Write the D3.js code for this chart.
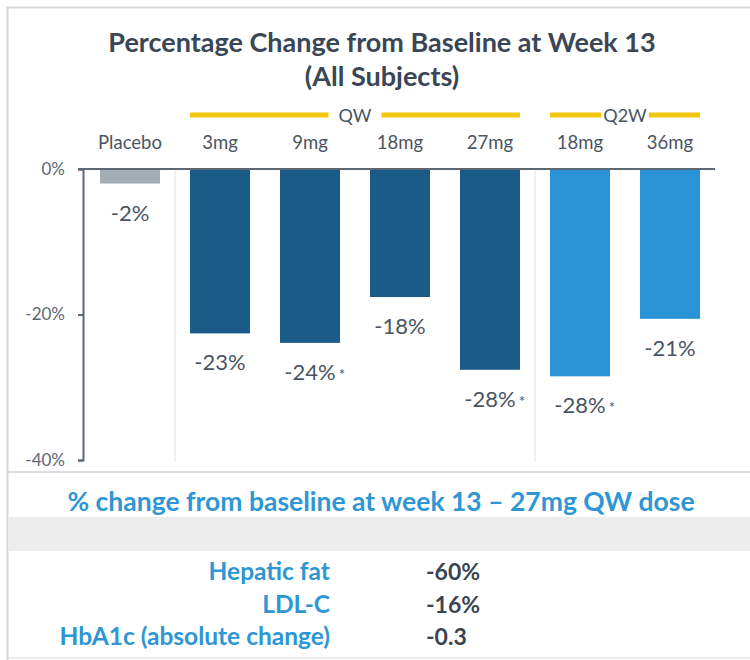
<!DOCTYPE html>
<html>
<head>
<meta charset="utf-8">
<script src="https://cdn.jsdelivr.net/npm/d3@7"></script>
<style>
  body { margin: 0; background: #fff; }
  svg { display: block; font-family: Lato, "Open Sans", sans-serif; }
</style>
</head>
<body>
<svg id="chart" width="750" height="660"></svg>
<script>
"use strict";

// bars
const categories = ["Placebo", "3mg", "9mg", "18mg", "27mg", "18mg", "36mg"];
const groups = ["Placebo", "QW", "QW", "QW", "QW", "Q2W", "Q2W"];
const values = [-2, -22.6, -23.9, -17.6, -27.6, -28.5, -20.6];
const valueLabels = ["-2%", "-23%", "-24%", "-18%", "-28%", "-28%", "-21%"];
const starred = [false, false, true, false, true, true, false];
const yTicks = [0, -20, -40];

// table under the chart
const metrics = ["Hepatic fat", "LDL-C", "HbA1c (absolute change)"];
const metricValues = ["-60%", "-16%", "-0.3"];

const colors = { Placebo: "#a6aeb5", QW: "#1a5b87", Q2W: "#2a93d6" };

const svg = d3.select("#chart");

// frame
svg.append("path")
    .attr("d", "M7.5,660 V7.5 H750")
    .attr("fill", "none").attr("stroke", "#d4d6d9").attr("stroke-width", 2);
svg.append("line")
    .attr("x1", 7).attr("x2", 750).attr("y1", 472).attr("y2", 472)
    .attr("stroke", "#cfd2d5").attr("stroke-width", 1.5);
svg.append("line")
    .attr("x1", 7).attr("x2", 750).attr("y1", 658).attr("y2", 658)
    .attr("stroke", "#e2e4e6").attr("stroke-width", 1.5);

// title
svg.append("text").attr("x", 382).attr("y", 52)
    .attr("text-anchor", "middle").attr("font-size", 27).attr("font-weight", 700)
    .attr("fill", "#3a4656")
    .text("Percentage Change from Baseline at Week 13");
svg.append("text").attr("x", 382).attr("y", 86)
    .attr("text-anchor", "middle").attr("font-size", 27).attr("font-weight", 700)
    .attr("fill", "#3a4656")
    .text("(All Subjects)");

const ids = categories.map((c, i) => i);
const x = d3.scaleBand().domain(ids).range([85, 715])
    .paddingInner(1 / 3).paddingOuter(1 / 6);
const y = d3.scaleLinear().domain([-40, 0]).range([460, 169]);

// separators between groups
[1, 5].forEach(i => {
    const sx = x(i) - x.step() * x.paddingInner() / 2;
    svg.append("line")
        .attr("x1", sx).attr("x2", sx).attr("y1", y(0)).attr("y2", 462)
        .attr("stroke", "#e6e7e9").attr("stroke-width", 1.2);
});

// y axis
const yAxis = svg.append("g")
    .attr("transform", "translate(83,0)")
    .call(d3.axisLeft(y).tickValues(yTicks).tickSize(5).tickSizeOuter(5)
        .tickPadding(13).tickFormat(d => d + "%"));
yAxis.select(".domain").attr("stroke", "#5d6772").attr("stroke-width", 2);
yAxis.selectAll(".tick line").attr("stroke", "#5d6772").attr("stroke-width", 2);
yAxis.selectAll(".tick text")
    .attr("font-size", 17).attr("fill", "#5d6772")
    .attr("font-family", "Lato, sans-serif");

// bars
svg.append("g").selectAll("rect")
    .data(ids).join("rect")
    .attr("x", i => x(i))
    .attr("y", y(0))
    .attr("width", x.bandwidth())
    .attr("height", i => y(values[i]) - y(0))
    .attr("fill", i => colors[groups[i]]);

// zero line
svg.append("line")
    .attr("x1", 78).attr("x2", 715).attr("y1", y(0)).attr("y2", y(0))
    .attr("stroke", "#5d6772").attr("stroke-width", 2);

// value labels
const lab = svg.append("g").selectAll("g")
    .data(ids).join("g");
lab.append("text")
    .attr("class", "vl")
    .attr("x", i => x(i) + x.bandwidth() / 2)
    .attr("y", i => y(values[i]) + 37)
    .attr("text-anchor", "middle")
    .attr("font-size", 22).attr("fill", "#4a5462")
    .text(i => valueLabels[i]);
lab.filter(i => starred[i]).append("text")
    .attr("x", function (i) {
        const w = this.parentNode.querySelector(".vl").getComputedTextLength();
        return x(i) + x.bandwidth() / 2 + w / 2 + 3;
    })
    .attr("y", i => y(values[i]) + 37)
    .attr("font-size", 15).attr("fill", "#4a5462")
    .text("*");

// category labels
svg.append("g").selectAll("text")
    .data(ids).join("text")
    .attr("x", i => x(i) + x.bandwidth() / 2)
    .attr("y", 149)
    .attr("text-anchor", "middle")
    .attr("font-size", 18.5).attr("fill", "#4a5462")
    .text(i => categories[i]);

// group brackets (QW / Q2W)
const bracketGroups = [
    { name: "QW", first: 1, last: 4, gap: 10 },
    { name: "Q2W", first: 5, last: 6, gap: 2 }
];
bracketGroups.forEach(g => {
    const x0 = x(g.first), x1 = x(g.last) + x.bandwidth();
    const cx = (x0 + x1) / 2;
    const t = svg.append("text").attr("x", cx).attr("y", 122)
        .attr("text-anchor", "middle").attr("font-size", 18).attr("fill", "#4a5462")
        .text(g.name);
    const hw = t.node().getComputedTextLength() / 2;
    [[x0, cx - hw - g.gap], [cx + hw + g.gap, x1]].forEach(([a, b]) => {
        svg.append("line").attr("x1", a).attr("x2", b).attr("y1", 115).attr("y2", 115)
            .attr("stroke", "#f2c511").attr("stroke-width", 5);
    });
});

// lower panel
svg.append("text").attr("x", 381).attr("y", 511)
    .attr("text-anchor", "middle").attr("font-size", 26.5).attr("font-weight", 700)
    .attr("fill", "#2e96d4")
    .text("% change from baseline at week 13 \u2013 27mg QW dose");
svg.append("rect").attr("x", 8).attr("y", 517).attr("width", 742).attr("height", 34)
    .attr("fill", "#ececec");

const rowY = d3.scalePoint().domain(metrics).range([580, 645]);
svg.append("g").selectAll("text")
    .data(metrics).join("text")
    .attr("x", 330).attr("y", d => rowY(d))
    .attr("text-anchor", "end").attr("font-size", 24.5).attr("font-weight", 700)
    .attr("fill", "#2e96d4")
    .text(d => d);
svg.append("g").selectAll("text")
    .data(metrics).join("text")
    .attr("x", 426).attr("y", d => rowY(d))
    .attr("font-size", 23).attr("font-weight", 700)
    .attr("fill", "#3a4452")
    .text((d, i) => metricValues[i]);
</script>
</body>
</html>
